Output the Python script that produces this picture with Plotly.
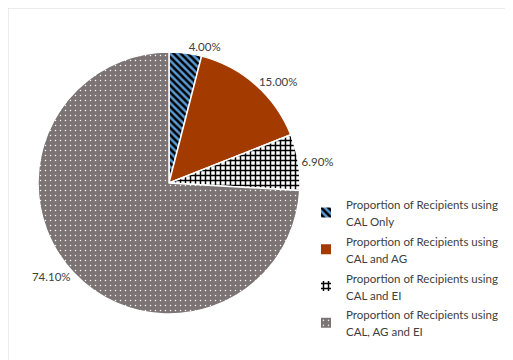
import plotly.graph_objects as go

legend_lines_1 = [
    "Proportion of Recipients using",
    "Proportion of Recipients using",
    "Proportion of Recipients using",
    "Proportion of Recipients using",
]
legend_lines_2 = ["CAL Only", "CAL and AG", "CAL and EI", "CAL, AG and EI"]
values = [4.00, 15.00, 6.90, 74.10]
bg_colors = ["#5B9BD5", "#A33A00", "#FFFFFF", "#7C7474"]
fg_colors = ["#000000", "#A33A00", "#000000", "#FFFFFF"]
shapes = ["\\", "", "+", "."]
solidities = [0.5, 0.3, 0.5, 0.07]
sizes = [5, 5, 5, 5]

FONT = "Lato, Liberation Sans, Arial"
span = "<span style='font-size:11.5px'>{}</span>"
labels = [span.format(a) + "<br>" + span.format(b) for a, b in zip(legend_lines_1, legend_lines_2)]

fig = go.Figure(go.Pie(
    labels=labels,
    values=values,
    sort=False,
    direction="clockwise",
    rotation=0,
    textposition="outside",
    texttemplate="%{value:.2f}%",
    textfont=dict(size=11.5, color="#404040", family=FONT),
    marker=dict(
        colors=bg_colors,
        line=dict(color="#FFFFFF", width=1.5),
        pattern=dict(shape=shapes, fgcolor=fg_colors, bgcolor=bg_colors,
                     size=sizes, solidity=solidities, fillmode="replace"),
    ),
    domain=dict(x=[30/513, 292/513], y=[1-306/360, 1-44/360]),
    hoverinfo="value",
))

fig.update_layout(
    width=513, height=360,
    margin=dict(l=0, r=0, t=0, b=0),
    paper_bgcolor="white",
    showlegend=True,
    legend=dict(
        x=298/513, y=1-181/360, xanchor="left", yanchor="top",
        font=dict(size=13, color="#404040", family=FONT),
        itemsizing="constant",
    ),
    shapes=[dict(type="rect", xref="paper", yref="paper", x0=0, y0=0, x1=1, y1=1,
                 line=dict(color="#D9D9D9", width=1))],
)

fig.write_html("out.html")
